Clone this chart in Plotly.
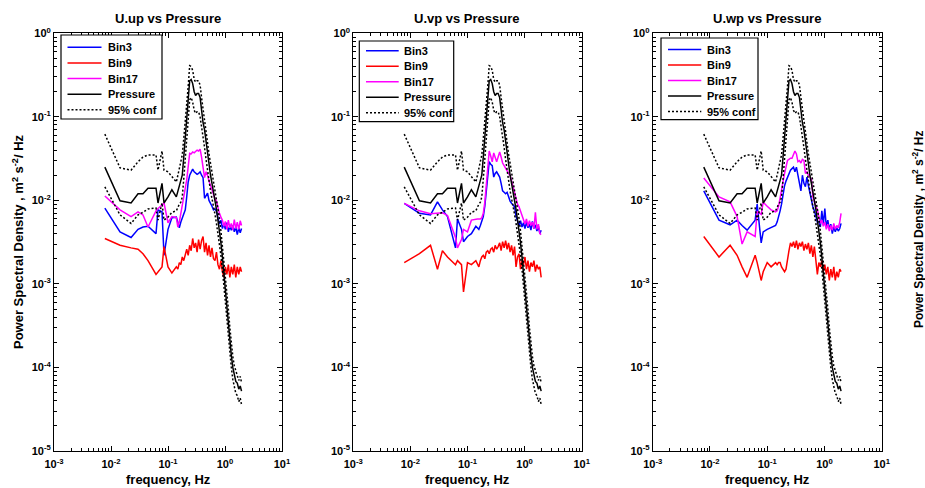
import plotly.graph_objects as go

# ---------------- data ----------------
freq = [0.0078, 0.0144, 0.0225, 0.0298, 0.0364, 0.0446, 0.0616, 0.0668, 0.0785, 0.0851, 0.100, 0.117,
        0.140, 0.149, 0.158, 0.168, 0.178, 0.189, 0.201, 0.213, 0.226, 0.240,
        0.255, 0.271, 0.288, 0.305, 0.324, 0.344, 0.366, 0.388, 0.412, 0.438,
        0.465, 0.494, 0.524, 0.557, 0.591, 0.628, 0.667, 0.708, 0.752, 0.799,
        0.848, 0.900, 0.956, 1.015, 1.078, 1.145, 1.216, 1.291, 1.371, 1.456,
        1.546, 1.642, 1.744, 1.850, 1.950]

pressure = [0.025, 0.0099, 0.0093, 0.012, 0.012, 0.014, 0.014, 0.0093, 0.016, 0.0093, 0.011, 0.0134,
            0.011, 0.013, 0.015, 0.017, 0.02, 0.033, 0.055, 0.09, 0.15, 0.27,
            0.28, 0.25, 0.2, 0.18, 0.19, 0.19, 0.17, 0.12, 0.085, 0.07,
            0.05, 0.035, 0.026, 0.02, 0.016, 0.013, 0.01, 0.0078, 0.0058, 0.0044,
            0.0031, 0.0021, 0.0013, 0.0009, 0.0006, 0.00036, 0.00022, 0.00014, 0.0001, 0.000078,
            0.000068, 0.000065, 0.000055, 0.00006, 0.000052]

conf_upper = [0.062, 0.0245, 0.023, 0.029, 0.033, 0.035, 0.035, 0.023, 0.039, 0.023, 0.022, 0.019,
              0.0166, 0.02, 0.024, 0.028, 0.035, 0.055, 0.085, 0.14, 0.23, 0.41,
              0.40, 0.36, 0.28, 0.26, 0.27, 0.27, 0.24, 0.17, 0.12, 0.098,
              0.07, 0.049, 0.036, 0.028, 0.022, 0.018, 0.014, 0.011, 0.0081, 0.0061,
              0.0043, 0.0029, 0.0018, 0.00125, 0.00083, 0.0005, 0.0003, 0.00019, 0.000135, 0.000105,
              0.000092, 0.000085, 0.00007, 0.000078, 0.000066]

conf_lower = [0.0145, 0.0067, 0.0053, 0.0067, 0.0072, 0.0079, 0.0081, 0.0058, 0.0093, 0.0058, 0.0063, 0.0072,
              0.0075, 0.0085, 0.009, 0.0095, 0.011, 0.018, 0.03, 0.05, 0.085, 0.16,
              0.17, 0.15, 0.12, 0.11, 0.115, 0.115, 0.1, 0.072, 0.052, 0.043,
              0.031, 0.022, 0.017, 0.013, 0.0105, 0.0087, 0.0068, 0.0053, 0.004, 0.0031,
              0.0022, 0.0015, 0.00093, 0.00065, 0.00043, 0.00026, 0.00016, 0.0001, 0.000072, 0.000056,
              0.000049, 0.000046, 0.000039, 0.000043, 0.000036]

# U.up
up_bin3 = [0.0081, 0.0042, 0.0036, 0.0045, 0.0048, 0.0049, 0.004, 0.0077, 0.0073, 0.0022, 0.0045, 0.0062,
           0.0063, 0.0055, 0.0047, 0.0055, 0.0062, 0.0068, 0.0077, 0.011, 0.0166, 0.02,
           0.022, 0.0237, 0.022, 0.021, 0.0205, 0.021, 0.022, 0.02, 0.0187, 0.0106,
           0.0115, 0.0122, 0.01, 0.0093, 0.0085, 0.0077, 0.0079, 0.0074, 0.006, 0.0052,
           0.0058, 0.0046, 0.0052, 0.0045, 0.0054, 0.0042, 0.0049, 0.0044, 0.005, 0.0042,
           0.0048, 0.0039, 0.0047, 0.0041, 0.0046]
up_bin9 = [0.0035, 0.0029, 0.0027, 0.0026, 0.0023, 0.0019, 0.0013, 0.0014, 0.0016, 0.0028, 0.0016, 0.00135,
           0.0016, 0.0015, 0.0018, 0.0017, 0.0021, 0.0019, 0.0023, 0.0026, 0.0022, 0.0029,
           0.0025, 0.0035, 0.0027, 0.0031, 0.0024, 0.0034, 0.0026, 0.0033, 0.0037, 0.0024,
           0.0031, 0.0022, 0.0029, 0.0021, 0.0027, 0.002, 0.0019, 0.0024, 0.0017, 0.0015,
           0.0019, 0.0014, 0.0012, 0.0016, 0.0013, 0.0017, 0.0012, 0.0016, 0.0013, 0.0017,
           0.0012, 0.0016, 0.0013, 0.0016, 0.0014]
up_bin17 = [0.0113, 0.0077, 0.0064, 0.0073, 0.0067, 0.0048, 0.0075, 0.008, 0.0088, 0.0093, 0.0054, 0.0064,
            0.0062, 0.0048, 0.0055, 0.0068, 0.0085, 0.011, 0.014, 0.0176, 0.028, 0.0366,
            0.036, 0.038, 0.037, 0.039, 0.04, 0.039, 0.041, 0.033, 0.025, 0.0187,
            0.022, 0.02, 0.017, 0.015, 0.0139, 0.012, 0.0105, 0.0098, 0.0082, 0.007,
            0.0063, 0.0058, 0.0049, 0.0056, 0.0045, 0.0058, 0.0047, 0.0053, 0.0044, 0.0059,
            0.0046, 0.0055, 0.0045, 0.0057, 0.005]

# U.vp
vp_bin3 = [0.0092, 0.007, 0.0067, 0.0096, 0.0077, 0.0064, 0.0027, 0.006, 0.0045, 0.0032, 0.0037, 0.004,
           0.0049, 0.0047, 0.0045, 0.005, 0.0058, 0.0064, 0.0085, 0.012, 0.02, 0.029,
           0.027, 0.026, 0.019, 0.021, 0.022, 0.02, 0.019, 0.016, 0.013, 0.0125,
           0.012, 0.0125, 0.011, 0.0098, 0.0092, 0.0088, 0.0084, 0.0064, 0.0058, 0.005,
           0.0057, 0.0048, 0.0054, 0.0046, 0.0055, 0.0047, 0.0052, 0.0044, 0.0056, 0.0046,
           0.0051, 0.0043, 0.0049, 0.004, 0.0044]
vp_bin9 = [0.0018, 0.0023, 0.0029, 0.0015, 0.0025, 0.0021, 0.0017, 0.0019, 0.0017, 0.0008, 0.0018, 0.0017,
           0.0019, 0.0017, 0.0016, 0.0019, 0.0021, 0.0022, 0.002, 0.0024, 0.0025, 0.0023,
           0.0026, 0.0027, 0.0024, 0.0029, 0.0026, 0.0028, 0.0031, 0.0025, 0.0032, 0.0027,
           0.0033, 0.0026, 0.0031, 0.0024, 0.0029, 0.0022, 0.0028, 0.0016, 0.0021, 0.0023,
           0.0015, 0.0019, 0.0017, 0.0021, 0.0015, 0.0019, 0.0014, 0.0018, 0.0016, 0.0019,
           0.0014, 0.0017, 0.0015, 0.0016, 0.0012]
vp_bin17 = [0.0092, 0.0075, 0.0069, 0.0071, 0.0071, 0.0066, 0.0036, 0.0027, 0.0034, 0.0045, 0.0042, 0.0058,
            0.006, 0.006, 0.006, 0.006, 0.0062, 0.007, 0.0095, 0.0146, 0.025, 0.039,
            0.034, 0.029, 0.037, 0.033, 0.029, 0.033, 0.038, 0.033, 0.028, 0.026,
            0.024, 0.022, 0.021, 0.02, 0.017, 0.0146, 0.012, 0.0101, 0.009, 0.0084,
            0.0075, 0.0065, 0.0058, 0.0052, 0.006, 0.0049, 0.0057, 0.005, 0.0055, 0.0046,
            0.0072, 0.0045, 0.0052, 0.004, 0.0039]

# U.wp
wp_bin3 = [0.013, 0.0058, 0.0051, 0.0058, 0.005, 0.0044, 0.0058, 0.009, 0.0031, 0.0042, 0.0045, 0.0047,
           0.005, 0.0055, 0.0062, 0.0075, 0.009, 0.012, 0.015, 0.017, 0.019, 0.021,
           0.023, 0.024, 0.025, 0.022, 0.025, 0.02, 0.016, 0.013, 0.02, 0.016,
           0.0146, 0.019, 0.015, 0.012, 0.0098, 0.0084, 0.0075, 0.0064, 0.0055, 0.0056,
           0.0048, 0.0075, 0.0052, 0.008, 0.0048, 0.0058, 0.0045, 0.0052, 0.004, 0.0048,
           0.0042, 0.0047, 0.0043, 0.0046, 0.0053]
wp_bin9 = [0.0037, 0.0021, 0.0029, 0.0022, 0.0016, 0.0012, 0.0022, 0.0018, 0.0011, 0.0014, 0.0018, 0.0016,
           0.0018, 0.0017, 0.0018, 0.0018, 0.0016, 0.0015, 0.0014, 0.0015, 0.0021, 0.0025,
           0.0031, 0.0028, 0.0032, 0.0027, 0.0033, 0.0026, 0.0031, 0.0028, 0.0032, 0.0025,
           0.003, 0.0026, 0.0031, 0.0023, 0.0029, 0.0021, 0.0028, 0.0019, 0.0013, 0.0018,
           0.0016, 0.0019, 0.0014, 0.0017, 0.0013, 0.0016, 0.0011, 0.0015, 0.0012, 0.0016,
           0.0011, 0.0014, 0.0012, 0.0015, 0.0014]
wp_bin17 = [0.0185, 0.011, 0.0096, 0.0064, 0.003, 0.0042, 0.0037, 0.0074, 0.0068, 0.0095, 0.0085, 0.0077,
            0.0073, 0.0075, 0.0085, 0.011, 0.014, 0.018, 0.021, 0.025, 0.03, 0.031,
            0.032, 0.032, 0.035, 0.039, 0.036, 0.029, 0.03, 0.028, 0.031, 0.03,
            0.021, 0.022, 0.02, 0.019, 0.018, 0.011, 0.0095, 0.0085, 0.0077, 0.006,
            0.0053, 0.0058, 0.0049, 0.0055, 0.0045, 0.0052, 0.0043, 0.005, 0.0044, 0.0053,
            0.0045, 0.005, 0.0047, 0.0055, 0.007]

panel_titles = ["U.up vs Pressure", "U.vp vs Pressure", "U.wp vs Pressure"]
legend_labels = ["Bin3", "Bin9", "Bin17", "Pressure", "95% conf"]
bin3_sets = [up_bin3, vp_bin3, wp_bin3]
bin9_sets = [up_bin9, vp_bin9, wp_bin9]
bin17_sets = [up_bin17, vp_bin17, wp_bin17]

x_tickvals = [0.001, 0.01, 0.1, 1, 10]
x_ticktext = ["10<sup>-3</sup>", "10<sup>-2</sup>", "10<sup>-1</sup>", "10<sup>0</sup>", "10<sup>1</sup>"]
y_tickvals = [1e-5, 1e-4, 1e-3, 1e-2, 1e-1, 1]
y_ticktext = ["10<sup>-5</sup>", "10<sup>-4</sup>", "10<sup>-3</sup>", "10<sup>-2</sup>", "10<sup>-1</sup>", "10<sup>0</sup>"]

# ---------------- layout constants ----------------
W, H = 925, 488
FONT = "Arial, Liberation Sans, Helvetica, sans-serif"
x_domains_px = [(54, 282), (353.3, 581.7), (652.7, 881.7)]
y_domain = [1 - 451 / H, 1 - 33.3 / H]

# legend box (left, top, right, bottom), sample line x0/x1, text x, row centres (px)
legend_boxes = [
    dict(box=(61, 35, 162, 119), line=(67.5, 101.5), text=106, rows=(47.3, 62.9, 78.6, 94.2, 109.8)),
    dict(box=(359.3, 41, 453.7, 121.7), line=(366, 398.7), text=402, rows=(50.8, 66.3, 81.8, 97.3, 112.8)),
    dict(box=(661, 38, 758, 119.7), line=(668, 701.3), text=705, rows=(49.6, 65.1, 80.6, 96.1, 111.6)),
]
legend_styles = [("#0000ff", "solid"), ("#ff0000", "solid"), ("#ff00ff", "solid"),
                 ("black", "solid"), ("black", "dot")]

x_minor = [m * 10 ** e for e in range(-3, 1) for m in range(2, 10)]
y_minor = [m * 10 ** e for e in range(-5, 0) for m in range(2, 10)]

fig = go.Figure()
layout = dict(
    width=W, height=H,
    margin=dict(l=0, r=0, t=0, b=0),
    paper_bgcolor="white", plot_bgcolor="white",
    font=dict(family=FONT, color="black", size=11),
    showlegend=False,
    annotations=[], shapes=[],
)


def px(xp):
    return xp / W


def py(yp):
    return 1 - yp / H


for k in range(3):
    sfx = "" if k == 0 else str(k + 1)
    xa, ya = "x" + sfx, "y" + sfx
    common = dict(xaxis=xa, yaxis=ya, mode="lines")
    fig.add_trace(go.Scatter(x=freq, y=bin3_sets[k], name="Bin3",
                             line=dict(color="#0000ff", width=1.5), **common))
    fig.add_trace(go.Scatter(x=freq, y=bin9_sets[k], name="Bin9",
                             line=dict(color="#ff0000", width=1.5), **common))
    fig.add_trace(go.Scatter(x=freq, y=bin17_sets[k], name="Bin17",
                             line=dict(color="#ff00ff", width=1.5), **common))
    fig.add_trace(go.Scatter(x=freq, y=pressure, name="Pressure",
                             line=dict(color="black", width=1.5), **common))
    fig.add_trace(go.Scatter(x=freq, y=conf_upper, name="95% conf upper",
                             line=dict(color="black", width=1.5, dash="2px,2px"), **common))
    fig.add_trace(go.Scatter(x=freq, y=conf_lower, name="95% conf lower",
                             line=dict(color="black", width=1.5, dash="2px,2px"), **common))

    x0, x1 = x_domains_px[k]
    axis_common = dict(
        tickmode="array", ticks="inside", ticklen=5, tickwidth=1, tickcolor="black",
        showline=True, linecolor="black", linewidth=1, mirror="allticks",
        showgrid=False, zeroline=False, automargin=False,
        tickfont=dict(family=FONT, size=11, weight="bold", color="black"),
    )
    layout["xaxis" + sfx] = dict(
        type="log", range=[-3, 1], domain=[px(x0), px(x1)], anchor=ya,
        tickvals=x_tickvals, ticktext=x_ticktext, ticklabelstandoff=3,
        minor=dict(tickmode="array", tickvals=x_minor, ticks="inside", ticklen=3,
                   tickcolor="black", showgrid=False),
        **axis_common)
    layout["yaxis" + sfx] = dict(
        type="log", range=[-5, 0], domain=y_domain, anchor=xa,
        tickvals=y_tickvals, ticktext=y_ticktext,
        minor=dict(tickmode="array", tickvals=y_minor, ticks="inside", ticklen=3,
                   tickcolor="black", showgrid=False),
        **axis_common)

    cx = px((x0 + x1) / 2)
    layout["annotations"].append(dict(
        text=panel_titles[k], xref="paper", yref="paper", x=cx, y=py(19),
        xanchor="center", yanchor="middle", showarrow=False,
        font=dict(family=FONT, size=13, weight="bold", color="black")))
    layout["annotations"].append(dict(
        text="frequency, Hz", xref="paper", yref="paper", x=cx, y=py(479),
        xanchor="center", yanchor="middle", showarrow=False,
        font=dict(family=FONT, size=13, weight="bold", color="black")))

    # legend (boxed, MATLAB style)
    lg = legend_boxes[k]
    bl, bt, br, bb = lg["box"]
    layout["shapes"].append(dict(type="rect", xref="paper", yref="paper",
                                 x0=px(bl), x1=px(br), y0=py(bb), y1=py(bt),
                                 fillcolor="white", line=dict(color="black", width=1.2),
                                 layer="above"))
    for label, (col, dash), ry in zip(legend_labels, legend_styles, lg["rows"]):
        layout["shapes"].append(dict(type="line", xref="paper", yref="paper",
                                     x0=px(lg["line"][0]), x1=px(lg["line"][1]),
                                     y0=py(ry), y1=py(ry),
                                     line=dict(color=col, width=1.5,
                                               dash="2px,2px" if dash == "dot" else "solid"),
                                     layer="above"))
        layout["annotations"].append(dict(
            text=label, xref="paper", yref="paper", x=px(lg["text"]), y=py(ry),
            xanchor="left", yanchor="middle", showarrow=False,
            font=dict(family=FONT, size=11, weight="bold", color="black")))

ylab = "Power Spectral Density , m<sup>2</sup> s<sup>-2</sup>/ Hz"
layout["annotations"].append(dict(
    text=ylab, xref="paper", yref="paper", x=px(18), y=py(242),
    xanchor="center", yanchor="middle", textangle=-90, showarrow=False,
    font=dict(family=FONT, size=13, weight="bold", color="black")))
layout["annotations"].append(dict(
    text=ylab, xref="paper", yref="paper", x=px(918), y=py(229),
    xanchor="center", yanchor="middle", textangle=-90, showarrow=False,
    font=dict(family=FONT, size=12, weight="bold", color="black")))

fig.update_layout(**layout)
fig.write_html(
    "out.html",
    config={"displayModeBar": False},
    post_script="document.body.style.margin='0';document.body.style.overflow='hidden';",
)
